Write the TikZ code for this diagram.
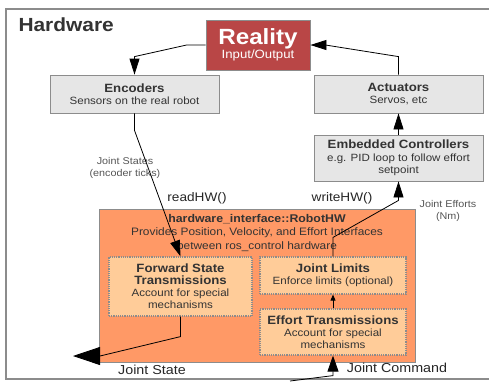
\documentclass[tikz,border=0pt]{standalone}
\usepackage{fontspec}
\setmainfont{Liberation Sans}[FakeStretch=1.1]
\usetikzlibrary{arrows.meta}
\definecolor{realityred}{HTML}{B94646}
\definecolor{boxgray}{HTML}{E6E6E6}
\definecolor{hwborder}{HTML}{8C8C8C}
\definecolor{hworange}{HTML}{FF9966}
\definecolor{transorange}{HTML}{FFCC99}
\definecolor{txtgray}{HTML}{333333}
\definecolor{lblgray}{HTML}{555555}
\newcommand{\hwtitle}{\fontsize{12}{12.5}\selectfont\bfseries}

\begin{document}
\begin{tikzpicture}[x=1pt,y=-1pt,
  graybox/.style={draw=hwborder, fill=boxgray, line width=0.8pt, inner sep=0pt,
    align=center, text=txtgray, font=\fontsize{10.5}{12.5}\selectfont},
  transbox/.style={draw=hwborder, fill=transorange, densely dotted, line width=1.2pt,
    inner sep=0pt, align=center, text=txtgray, font=\fontsize{10.5}{12}\selectfont},
  lbl/.style={align=center, text=lblgray, font=\fontsize{9.8}{11.5}\selectfont},
  calllbl/.style={text=black!85, font=\fontsize{12.4}{14}\selectfont},
  conn/.style={draw=black, line width=0.8pt, -{Triangle[length=16pt,width=10pt]}}
  ]
  \useasboundingbox (0,0) rectangle (489,381);
  \clip (0,0) rectangle (489,381);
  % frame
  \draw[hwborder, line width=1.5pt] (6,9) rectangle (500,379);
  \node[anchor=west, text=txtgray, font=\fontsize{19}{20}\selectfont\bfseries] (hwname) at (15,25) {Hardware};

  % hardware boxes
  \node[draw=hwborder, fill=realityred, text=white, line width=0.8pt, inner sep=0pt, align=center,
    minimum width=104pt, minimum height=50pt] (reality) at (258,45)
    {{\fontsize{22}{22}\selectfont\bfseries Reality}\\{\fontsize{12}{13}\selectfont Input/Output}};
  \node[graybox, minimum width=169pt, minimum height=38pt] (enc) at (134.5,94)
    {{\hwtitle Encoders}\\Sensors on the real robot};
  \node[graybox, minimum width=169pt, minimum height=38pt] (act) at (398.5,94)
    {{\hwtitle Actuators}\\Servos, etc};
  \node[graybox, minimum width=169pt, minimum height=46pt] (emb) at (398.5,158)
    {{\hwtitle Embedded Controllers}\\e.g. PID loop to follow effort\\setpoint};

  % robot hw
  \node[draw=hwborder, fill=hworange, line width=0.8pt, minimum width=316pt, minimum height=153pt] (robothw) at (257,285.5) {};
  \node[align=center, text=txtgray, font=\fontsize{10.8}{13.5}\selectfont] (rhwtxt) at (257,233)
    {{\fontsize{11.2}{13.5}\selectfont\bfseries hardware\_interface::RobotHW}\\Provides Position, Velocity, and Effort Interfaces\\between ros\_control hardware};
  \node[transbox, minimum width=143pt, minimum height=59pt] (fwd) at (180.5,286.5)
    {{\hwtitle Forward State}\\{\hwtitle Transmissions}\\Account for special\\mechanisms};
  \node[transbox, minimum width=146pt, minimum height=37pt] (lim) at (333,275.5)
    {{\hwtitle Joint Limits}\\Enforce limits (optional)};
  \node[transbox, minimum width=146pt, minimum height=46pt] (eff) at (333,332)
    {{\hwtitle Effort Transmissions}\\Account for special\\mechanisms};

  % labels
  \node[lbl] (jstates) at (125,168) {Joint States\\(encoder ticks)};
  \node[lbl] (jefforts) at (448,211) {Joint Efforts\\(Nm)};
  \node[calllbl] (readhw) at (197,198) {readHW()};
  \node[calllbl] (writehw) at (342,198) {writeHW()};
  \node[calllbl, font=\fontsize{13}{14}\selectfont] (jstate) at (152,370) {Joint State};
  \node[calllbl, font=\fontsize{13}{14}\selectfont] (jcommand) at (397,368) {Joint Command};
  \coordinate (jstateend) at (73,356);
  \coordinate (jcmdstart) at (290,381);

  % connectors
  \draw[conn] (reality.west) -- ++(-19,0) -- ([yshift=18pt]enc.north) -- (enc.north);
  \draw[conn] (act.north) -- ++(0,-18) -- ([xshift=15pt]reality.east) -- (reality.east);
  \draw[conn] (emb.north) -- (act.south);
  \draw[conn] (enc.south) -- ++(0,17) -- (fwd.north);
  \draw[conn] (lim.north) -- ++(0,-19) -- ([yshift=-19pt]emb.south) -- (emb.south);
  \draw[conn, -{Triangle[length=6pt,width=5pt]}] (eff.north) -- (lim.south);
  \draw[conn, -{Triangle[length=27pt,width=18pt]}] (fwd.south) -- ++(0,20) -- ([xshift=27pt]jstateend) -- (jstateend);
  \draw[conn, -{Triangle[length=16pt,width=11pt]}] (jcmdstart) -- ([yshift=-20pt]eff.south) -- (eff.south);
\end{tikzpicture}
\end{document}
